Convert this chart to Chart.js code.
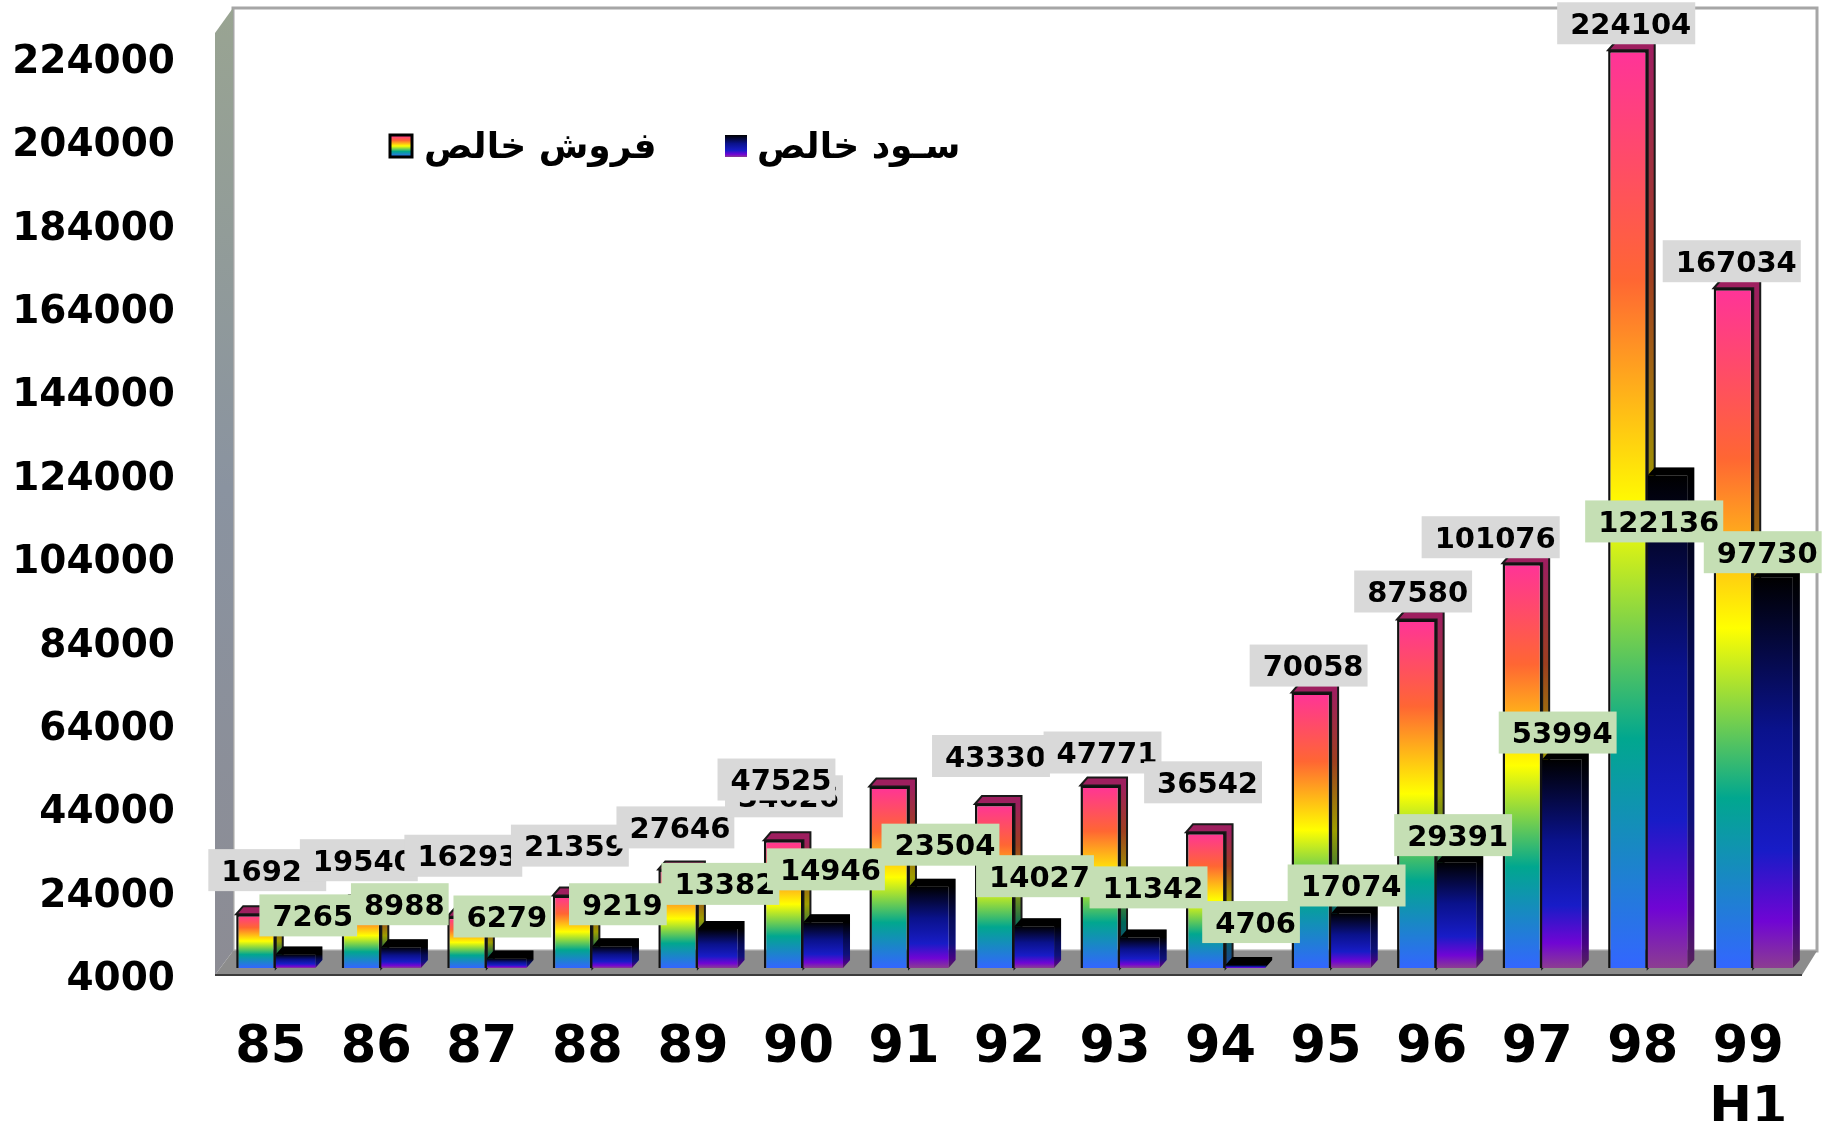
<!DOCTYPE html>
<html>
<head>
<meta charset="utf-8">
<style>
  html, body { margin: 0; padding: 0; background: #fff; }
  canvas { display: block; }
</style>
<script src="https://cdn.jsdelivr.net/npm/chart.js@4"></script>
</head>
<body>
<canvas id="salesChart" width="1830" height="1121"></canvas>
<script>
const categories = ['85', '86', '87', '88', '89', '90', '91', '92', '93', '94', '95', '96', '97', '98', ['99', 'H1']];
const netSales = [16920, 19540, 16293, 21359, 27646, 34626, 47525, 43330, 47771, 36542, 70058, 87580, 101076, 224104, 167034];
const netProfit = [7265, 8988, 6279, 9219, 13382, 14946, 23504, 14027, 11342, 4706, 17074, 29391, 53994, 122136, 97730];
const yTickValues = [4000, 24000, 44000, 64000, 84000, 104000, 124000, 144000, 164000, 184000, 204000, 224000];
const seriesNames = ['فروش خالص', 'سـود خالص'];

// label nudges from the category centre / bar top, the original labels were placed by hand
const salesLabelDx = [-4, -18, -19, -18, -18, -15, -128, -19, -13, -18, -18, -19, -47, -17, -17];
const salesLabelDy = [-44, -43, -61, -50, -42, -44, -7, -48, -33, -50, -27, -28, -26, -27, -27];
const profitLabelDx = [37, 23, 20, 30, 27, 27, 36, 25, 33, 30, 20, 21, 20, 11, 14];
const profitLabelDy = [-39, -43, -42, -42, -45, -53, -42, -50, -50, -43, -28, -27, -27, 46, -25];

const rainbowStops = [[0, '#FF3399'], [0.25, '#FF6633'], [0.5, '#FFFF00'], [0.75, '#01A78F'], [1, '#3366FF']];
const nightStops = [[0, '#000000'], [0.39, '#0A128C'], [0.7, '#181CC7'], [0.88, '#7005D4'], [1, '#8C3D91']];
const fontFamily = '"DejaVu Sans", Verdana, sans-serif';
const DEPTH_X = 7;
const DEPTH_Y = 8;

function makeGradient(ctx, top, bottom, stops) {
    const g = ctx.createLinearGradient(0, top, 0, bottom);
    stops.forEach(s => g.addColorStop(s[0], s[1]));
    return g;
}

function barFill(stops) {
    return function (c) {
        const chart = c.chart;
        if (!chart.chartArea || c.raw === undefined) return '#888';
        return makeGradient(chart.ctx, chart.scales.y.getPixelForValue(c.raw), chart.scales.y.getPixelForValue(4000), stops);
    };
}

// top and side faces of one series, drawn before any front face
function drawDepthFaces(chart, datasetIndex, stops) {
    const ctx = chart.ctx;
    const floor = chart.chartArea.bottom;
    chart.getDatasetMeta(datasetIndex).data.forEach(bar => {
        const left = bar.x - bar.width / 2;
        const right = bar.x + bar.width / 2;
        ctx.beginPath();
        ctx.moveTo(left, bar.y);
        ctx.lineTo(left + DEPTH_X, bar.y - DEPTH_Y);
        ctx.lineTo(right + DEPTH_X, bar.y - DEPTH_Y);
        ctx.lineTo(right + DEPTH_X, floor - DEPTH_Y);
        ctx.lineTo(right, floor);
        ctx.lineTo(right, bar.y);
        ctx.closePath();
        ctx.fillStyle = makeGradient(ctx, bar.y, floor, stops);
        ctx.fill();
        ctx.fillStyle = 'rgba(0,0,0,0.38)';
        ctx.fill();
        if (datasetIndex === 0) {
            ctx.strokeStyle = '#1a1a1a';
            ctx.lineWidth = 2;
            ctx.stroke();
        }
    });
}

// back wall, side wall and floor of the fake 3D box
const boxPlugin = {
    id: 'box',
    beforeDatasetsDraw(chart) {
        const ctx = chart.ctx;
        const a = chart.chartArea;
        ctx.save();
        ctx.strokeStyle = '#a6a6a6';
        ctx.lineWidth = 3;
        ctx.strokeRect(a.left + 10, a.top - 1, a.right + 11 - a.left - 10, a.bottom - 17 - a.top + 1);

        const wall = ctx.createLinearGradient(0, a.top, 0, a.bottom);
        wall.addColorStop(0, '#99A492');
        wall.addColorStop(0.5, '#8A93A0');
        wall.addColorStop(1, '#8C8C94');
        ctx.fillStyle = wall;
        ctx.beginPath();
        ctx.moveTo(a.left + 10, a.top - 1);
        ctx.lineTo(a.left - 8, a.top + 24);
        ctx.lineTo(a.left - 8, a.bottom + 7);
        ctx.lineTo(a.left + 10, a.bottom - 17);
        ctx.closePath();
        ctx.fill();

        ctx.fillStyle = '#8C8C8C';
        ctx.beginPath();
        ctx.moveTo(a.left - 8, a.bottom + 7);
        ctx.lineTo(a.left + 10, a.bottom - 17);
        ctx.lineTo(a.right + 11, a.bottom - 17);
        ctx.lineTo(a.right - 4, a.bottom + 7);
        ctx.closePath();
        ctx.fill();
        ctx.strokeStyle = '#3c3c3c';
        ctx.lineWidth = 2;
        ctx.beginPath();
        ctx.moveTo(a.left - 8, a.bottom + 7);
        ctx.lineTo(a.right - 4, a.bottom + 7);
        ctx.stroke();

        drawDepthFaces(chart, 0, rainbowStops);
        drawDepthFaces(chart, 1, nightStops);
        ctx.restore();
    }
};

function drawValueLabels(chart, datasetIndex, dxList, dyList, fill) {
    const ctx = chart.ctx;
    const meta = chart.getDatasetMeta(datasetIndex);
    const values = chart.data.datasets[datasetIndex].data;
    meta.data.forEach((bar, i) => {
        const text = String(values[i]);
        const cx = chart.scales.x.getPixelForTick(i) + dxList[i];
        const cy = bar.y + dyList[i];
        const w = ctx.measureText(text).width;
        ctx.fillStyle = fill;
        ctx.fillRect(cx - w / 2 - 13, cy - 21, w + 17, 42);
        ctx.fillStyle = '#000';
        ctx.fillText(text, cx, cy + 3);
    });
}

const labelPlugin = {
    id: 'valueLabels',
    afterDatasetsDraw(chart) {
        const ctx = chart.ctx;
        ctx.save();
        ctx.font = 'bold 29px ' + fontFamily;
        ctx.textAlign = 'center';
        ctx.textBaseline = 'middle';
        drawValueLabels(chart, 0, salesLabelDx, salesLabelDy, '#D9D9D9');
        drawValueLabels(chart, 1, profitLabelDx, profitLabelDy, '#C5DFB4');
        ctx.restore();
    }
};

const legendPlugin = {
    id: 'boxLegend',
    afterDraw(chart) {
        const ctx = chart.ctx;
        ctx.save();
        ctx.font = 'bold 36px ' + fontFamily;
        ctx.textBaseline = 'middle';
        ctx.textAlign = 'left';
        // first swatch
        ctx.fillStyle = makeGradient(ctx, 135, 157, rainbowStops);
        ctx.fillRect(390, 135, 22, 22);
        ctx.strokeStyle = '#000';
        ctx.lineWidth = 3;
        ctx.strokeRect(390, 135, 22, 22);
        ctx.fillStyle = '#000';
        ctx.fillText(seriesNames[0], 424, 149);
        // second swatch
        ctx.fillStyle = makeGradient(ctx, 135, 157, nightStops);
        ctx.fillRect(725, 135, 22, 22);
        ctx.fillStyle = '#000';
        ctx.fillText(seriesNames[1], 757, 149);
        ctx.restore();
    }
};

new Chart(document.getElementById('salesChart'), {
    type: 'bar',
    data: {
        labels: categories,
        datasets: [{
            label: seriesNames[0],
            data: netSales,
            backgroundColor: barFill(rainbowStops),
            borderColor: '#111',
            borderWidth: 2.5,
            borderSkipped: false
        }, {
            label: seriesNames[1],
            data: netProfit,
            backgroundColor: barFill(nightStops),
            borderWidth: 0
        }]
    },
    options: {
        responsive: false,
        animation: false,
        categoryPercentage: 0.75,
        barPercentage: 1,
        layout: { padding: { top: 9, right: 24 } },
        plugins: {
            legend: { display: false },
            tooltip: { enabled: false }
        },
        scales: {
            x: {
                afterFit: scale => {
                    scale.height = 153;
                    scale.paddingLeft = 0;
                    scale.paddingRight = 0;
                },
                grid: { display: false },
                border: { display: false },
                ticks: {
                    color: '#000',
                    padding: 42,
                    labelOffset: -5,
                    maxRotation: 0,
                    autoSkip: false,
                    font: { family: fontFamily, size: 51, weight: 'bold' }
                }
            },
            y: {
                min: 4000,
                max: 234000,
                afterFit: scale => {
                    scale.width = 223;
                    scale.paddingTop = 0;
                    scale.paddingBottom = 0;
                },
                afterBuildTicks: scale => { scale.ticks = yTickValues.map(v => ({ value: v })); },
                grid: { display: false },
                border: { display: false },
                ticks: {
                    color: '#000',
                    padding: 40,
                    labelOffset: 12,
                    callback: v => String(v),
                    font: { family: fontFamily, size: 39, weight: 'bold' }
                }
            }
        }
    },
    plugins: [boxPlugin, labelPlugin, legendPlugin]
});
</script>
</body>
</html>
